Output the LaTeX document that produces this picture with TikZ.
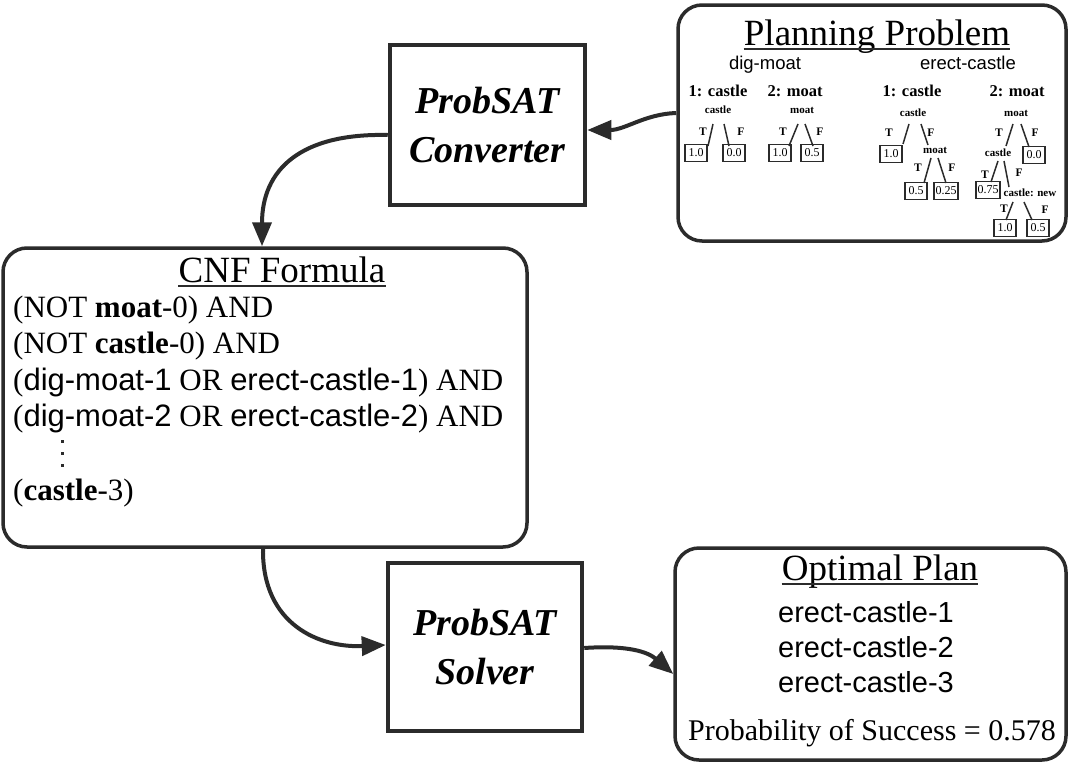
\documentclass[tikz,border=0pt]{standalone}
\usepackage{fontspec}
\setmainfont{Liberation Serif}
\setsansfont{Liberation Sans}
\usetikzlibrary{arrows.meta}
\newcommand{\fsz}[1]{\fontsize{#1}{#1}\selectfont}
% a branch of a decision tree, from a parent label to a child
\newcommand{\twig}[6]{\draw[twig] ([shift={(#2,#3)}]#1.center) -- ([shift={(#5,#6)}]#4.center);}
\definecolor{ink}{HTML}{2B2B2B}
\begin{document}
\begin{tikzpicture}[x=1pt,y=-1pt,
  panel/.style={draw=ink, line width=3.5pt, rounded corners=24pt, inner sep=0pt},
  engine/.style={draw=ink, line width=4.5pt, inner sep=0pt, align=center,
    font=\fontsize{38}{49}\selectfont\bfseries\itshape},
  flow/.style={draw=ink, line width=4pt, -{Triangle[length=24pt,width=19pt]}},
  heading/.style={inner sep=0pt, anchor=base, font=\fsz{37}},
  formula/.style={inner sep=0pt, anchor=base west, font=\fsz{31}},
  planline/.style={inner sep=0pt, font=\fsz{29}},
  actname/.style={inner sep=0pt, anchor=base, font=\sffamily\fsz{18.5}},
  treehead/.style={inner sep=0pt, font=\bfseries\fsz{16.5}},
  var/.style={inner sep=0.5pt, font=\bfseries\fsz{11}},
  tf/.style={inner sep=0pt, font=\bfseries\fsz{11.5}},
  leaf/.style={draw=ink, line width=1.1pt, inner sep=1.5pt, minimum width=22pt,
    minimum height=17pt, font=\fsz{12}},
  twig/.style={draw=ink, line width=1.5pt},
  uline/.style={draw=ink, line width=1.3pt}
]
\useasboundingbox (0,0) rectangle (1068,763);
\fill[white] (0,0) rectangle (1068,763);

% ---------- panels and engines ----------
\node[panel, minimum width=388pt, minimum height=236pt] (plan) at (872,123) {};
\node[engine, minimum width=195pt, minimum height=160pt] (conv) at (487.5,125) {ProbSAT\\Converter};
\node[panel, minimum width=524pt, minimum height=299pt] (cnf) at (265,397.5) {};
\node[engine, minimum width=194pt, minimum height=168pt] (solver) at (485,647) {ProbSAT\\Solver};
\node[panel, minimum width=391pt, minimum height=212pt] (opt) at (870.5,654) {};

% ---------- planning problem ----------
\node[heading] (pt) at (877,45) {Planning Problem};
\draw[uline] ([yshift=-4pt]pt.base west) -- ([yshift=-4pt]pt.base east);
\node[actname] (dm) at (765,69) {dig-moat};
\node[actname] (ec) at (968,69) {erect-castle};

\node[treehead] (h1) at (718,91) {1: castle};
\node[treehead] (h2) at (795,91) {2: moat};
\node[treehead] (h3) at (912,91) {1: castle};
\node[treehead] (h4) at (1017,91) {2: moat};

% dig-moat, step 1
\node[var] (a0) at (718,110) {castle};
\node[leaf] (aT) at (696,153) {1.0};
\node[leaf] (aF) at (734,153) {0.0};
\node[tf] (aTl) at (703,132) {T};
\node[tf] (aFl) at (741,132) {F};
\twig{a0}{-5}{14}{aT}{12}{-7}
\twig{a0}{6}{14}{aF}{-5}{-7}

% dig-moat, step 2
\node[var] (b0) at (802,110) {moat};
\node[leaf] (bT) at (780,153) {1.0};
\node[leaf] (bF) at (812,153) {0.5};
\node[tf] (bTl) at (783,132) {T};
\node[tf] (bFl) at (820,132) {F};
\twig{b0}{-4}{14}{bT}{9}{-7}
\twig{b0}{3}{14}{bF}{1}{-7}

% erect-castle, step 1
\node[var] (c0) at (913,113) {castle};
\node[leaf] (cT) at (891,154) {1.0};
\node[var] (c1) at (935,150) {moat};
\node[leaf] (cFT) at (916,191) {0.5};
\node[leaf] (cFF) at (946,191) {0.25};
\node[tf] (cTl) at (889,133) {T};
\node[tf] (cFl) at (931,133) {F};
\node[tf] (c1Tl) at (918,168) {T};
\node[tf] (c1Fl) at (952,168) {F};
\twig{c0}{-4}{11}{cT}{12}{-10}
\twig{c0}{8}{11}{c1}{-7}{-5}
\twig{c1}{-4}{8}{cFT}{8}{-8}
\twig{c1}{3}{8}{cFF}{0}{-8}

% erect-castle, step 2
\node[var] (d0) at (1016,113) {moat};
\node[var] (d1) at (998,153) {castle};
\node[leaf] (dF) at (1034,155) {0.0};
\node[leaf] (d1T) at (988,190) {0.75};
\node[var] (d2) at (1030,193) {castle: new};
\node[leaf] (d2T) at (1005,228) {1.0};
\node[leaf] (d2F) at (1038,228) {0.5};
\node[tf] (dTl) at (999,133) {T};
\node[tf] (dFl) at (1035,133) {F};
\node[tf] (d1Tl) at (985,175) {T};
\node[tf] (d1Fl) at (1019,173) {F};
\node[tf] (d2Tl) at (1004,209) {T};
\node[tf] (d2Fl) at (1045,210) {F};
\twig{d0}{-3}{11}{d1}{8}{-7}
\twig{d0}{5}{11}{dF}{-5}{-8}
\twig{d1}{0}{8}{d1T}{3}{-8}
\twig{d1}{6}{8}{d2}{-21}{-6}
\twig{d2}{-17}{9}{d2T}{1}{-8}
\twig{d2}{-6}{9}{d2F}{-6}{-8}

% ---------- CNF formula ----------
\node[heading] (ct) at (282,282) {CNF Formula};
\draw[uline] ([yshift=-4pt]ct.base west) -- ([yshift=-4pt]ct.base east);
\node[formula] (f1) at (13,317) {(NOT \textbf{moat}-0) AND};
\node[formula] (f2) at (13,353) {(NOT \textbf{castle}-0) AND};
\node[formula] (f3) at (13,390) {({\sffamily dig-moat-1} OR {\sffamily erect-castle-1}) AND};
\node[formula] (f4) at (13,426) {({\sffamily dig-moat-2} OR {\sffamily erect-castle-2}) AND};
\foreach \k/\yy in {1/441,2/453,3/465}
  \fill[ink] (60.5,\yy-1.5) rectangle (63.5,\yy+1.5);
\node[formula] (f5) at (13,500) {(\textbf{castle}-3)};

% ---------- optimal plan ----------
\node[heading] (ot) at (880,580) {Optimal Plan};
\draw[uline] ([yshift=-4pt]ot.base west) -- ([yshift=-4pt]ot.base east);
\node[planline, font=\sffamily\fsz{29}] (p1) at (866,612) {erect-castle-1};
\node[planline, font=\sffamily\fsz{29}] (p2) at (866,647) {erect-castle-2};
\node[planline, font=\sffamily\fsz{29}] (p3) at (866,682) {erect-castle-3};
\node[planline, font=\fsz{30}] (ps) at (872,733) {Probability of Success = 0.578};

% ---------- connectors ----------
\draw[flow] ([yshift=10pt]plan.west) .. controls (645,114) and (625,130) .. ([yshift=-5pt]conv.east);
\draw[flow] ([yshift=-10pt]conv.west) .. controls (300,133) and (262,170) .. ([xshift=-3pt]cnf.north);
\draw[flow] ([xshift=-2pt]cnf.south) .. controls (262,625) and (320,648) .. ([yshift=2pt]solver.west);
\draw[flow] ([yshift=-1pt]solver.east) .. controls (628,645) and (648,652) .. ([yshift=-20pt]opt.west);
\end{tikzpicture}
\end{document}
